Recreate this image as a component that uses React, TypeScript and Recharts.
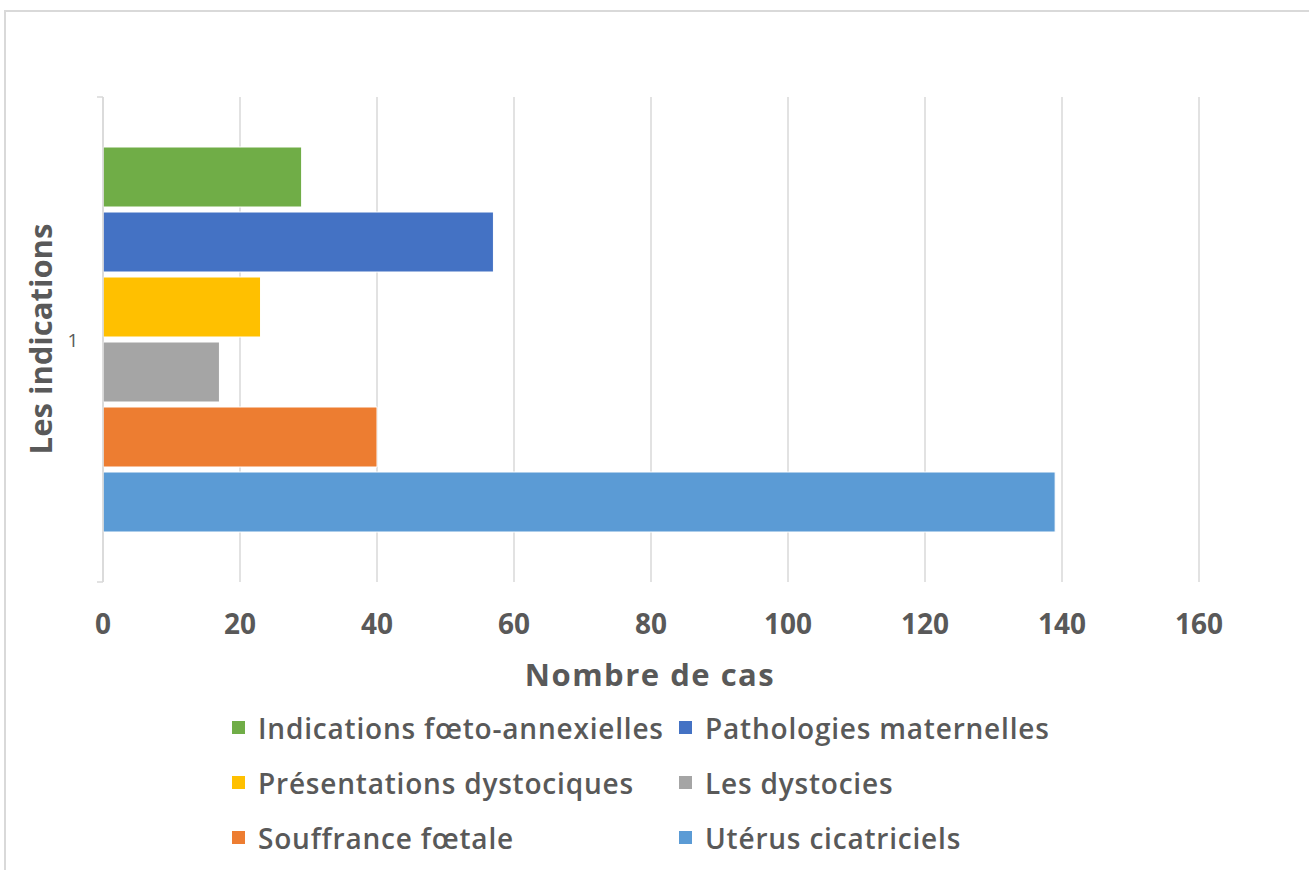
import React from 'react';
import { BarChart, Bar, XAxis, YAxis, CartesianGrid } from 'recharts';

const categories = ['1'];
const seriesNames = [
  'Indications fœto-annexielles',
  'Pathologies maternelles',
  'Présentations dystociques',
  'Les dystocies',
  'Souffrance fœtale',
  'Utérus cicatriciels',
];
const seriesValues = [29, 57, 23, 17, 40, 139];
const seriesColors = ['#70ad47', '#4472c4', '#ffc000', '#a5a5a5', '#ed7d31', '#5b9bd5'];
const xTicks = [0, 20, 40, 60, 80, 100, 120, 140, 160];

const FONT = '"Open Sans", "Noto Sans", sans-serif';
const TEXT = '#595959';

const chartData = categories.map((name) => {
  const row: Record<string, any> = { name };
  seriesNames.forEach((s, i) => {
    row[s] = seriesValues[i];
  });
  return row;
});

// category label plus Excel-style tick marks at the band edges
const CategoryTick = (props: any) => {
  const { x, y, payload } = props;
  const half = payload && payload.offset ? payload.offset : 242;
  return (
    <g>
      <text x={x - 22} y={y} dy={7} textAnchor="middle" fill={TEXT} fontSize={19} fontFamily={FONT}>
        {payload.value}
      </text>
      <line x1={x + 2} x2={x + 8} y1={y - half} y2={y - half} stroke="#d9d9d9" strokeWidth={1.5} />
      <line x1={x + 2} x2={x + 8} y1={y + half} y2={y + half} stroke="#d9d9d9" strokeWidth={1.5} />
    </g>
  );
};

const ChartLegend = () => {
  const rows: number[][] = [];
  for (let i = 0; i < seriesNames.length; i += 2) rows.push([i, i + 1]);
  return (
    <div style={{ position: 'absolute', left: 232, top: 700, fontFamily: FONT }}>
      {rows.map((r, ri) => (
        <div key={ri} style={{ display: 'flex', height: 55, alignItems: 'center' }}>
          {r.map((idx, ci) => (
            <div key={idx} style={{ display: 'flex', alignItems: 'center', width: ci === 0 ? 447 : 420 }}>
              <span
                style={{
                  display: 'inline-block',
                  width: 13,
                  height: 13,
                  background: seriesColors[idx],
                  marginRight: 13,
                }}
              />
              <span
                style={{
                  color: TEXT,
                  fontSize: 28,
                  fontWeight: 600,
                  letterSpacing: 0.8,
                  whiteSpace: 'nowrap',
                }}
              >
                {seriesNames[idx]}
              </span>
            </div>
          ))}
        </div>
      ))}
    </div>
  );
};

export default function App() {
  return (
    <div style={{ position: 'absolute', left: 0, top: 0, width: 1309, height: 870, background: '#fff', overflow: 'hidden' }}>
      <div
        style={{
          position: 'absolute',
          left: 4,
          top: 10,
          width: 1320,
          height: 880,
          border: '2px solid #d9d9d9',
        }}
      />
      <BarChart
        width={1309}
        height={870}
        layout="vertical"
        data={chartData}
        margin={{ top: 97, right: 110, left: 43, bottom: 228 }}
        barCategoryGap={50}
        barGap={5}
      >
        <CartesianGrid horizontal={false} stroke="#d9d9d9" strokeWidth={1.5} />
        <XAxis
          type="number"
          domain={[0, 160]}
          ticks={xTicks}
          axisLine={false}
          tickLine={false}
          tickMargin={26}
          height={60}
          tick={{ fill: TEXT, fontSize: 28, fontWeight: 700, fontFamily: FONT }}
        />
        <YAxis
          type="category"
          dataKey="name"
          width={60}
          axisLine={{ stroke: '#d9d9d9', strokeWidth: 1.5 }}
          tickLine={false}
          tick={<CategoryTick />}
        />
        {seriesNames.map((s, i) => (
          <Bar
            key={s}
            dataKey={s}
            fill={seriesColors[i]}
            stroke="#ffffff"
            strokeWidth={1}
            isAnimationActive={false}
          />
        ))}
        <text
          x={650}
          y={674}
          textAnchor="middle"
          dominantBaseline="central"
          fill={TEXT}
          fontSize={31}
          fontWeight={700}
          letterSpacing={1.5}
          fontFamily={FONT}
        >
          Nombre de cas
        </text>
        <text
          x={40}
          y={339}
          textAnchor="middle"
          dominantBaseline="central"
          transform="rotate(-90 40 339)"
          fill={TEXT}
          fontSize={31}
          fontWeight={700}
          fontFamily={FONT}
        >
          Les indications
        </text>
      </BarChart>
      <ChartLegend />
    </div>
  );
}
